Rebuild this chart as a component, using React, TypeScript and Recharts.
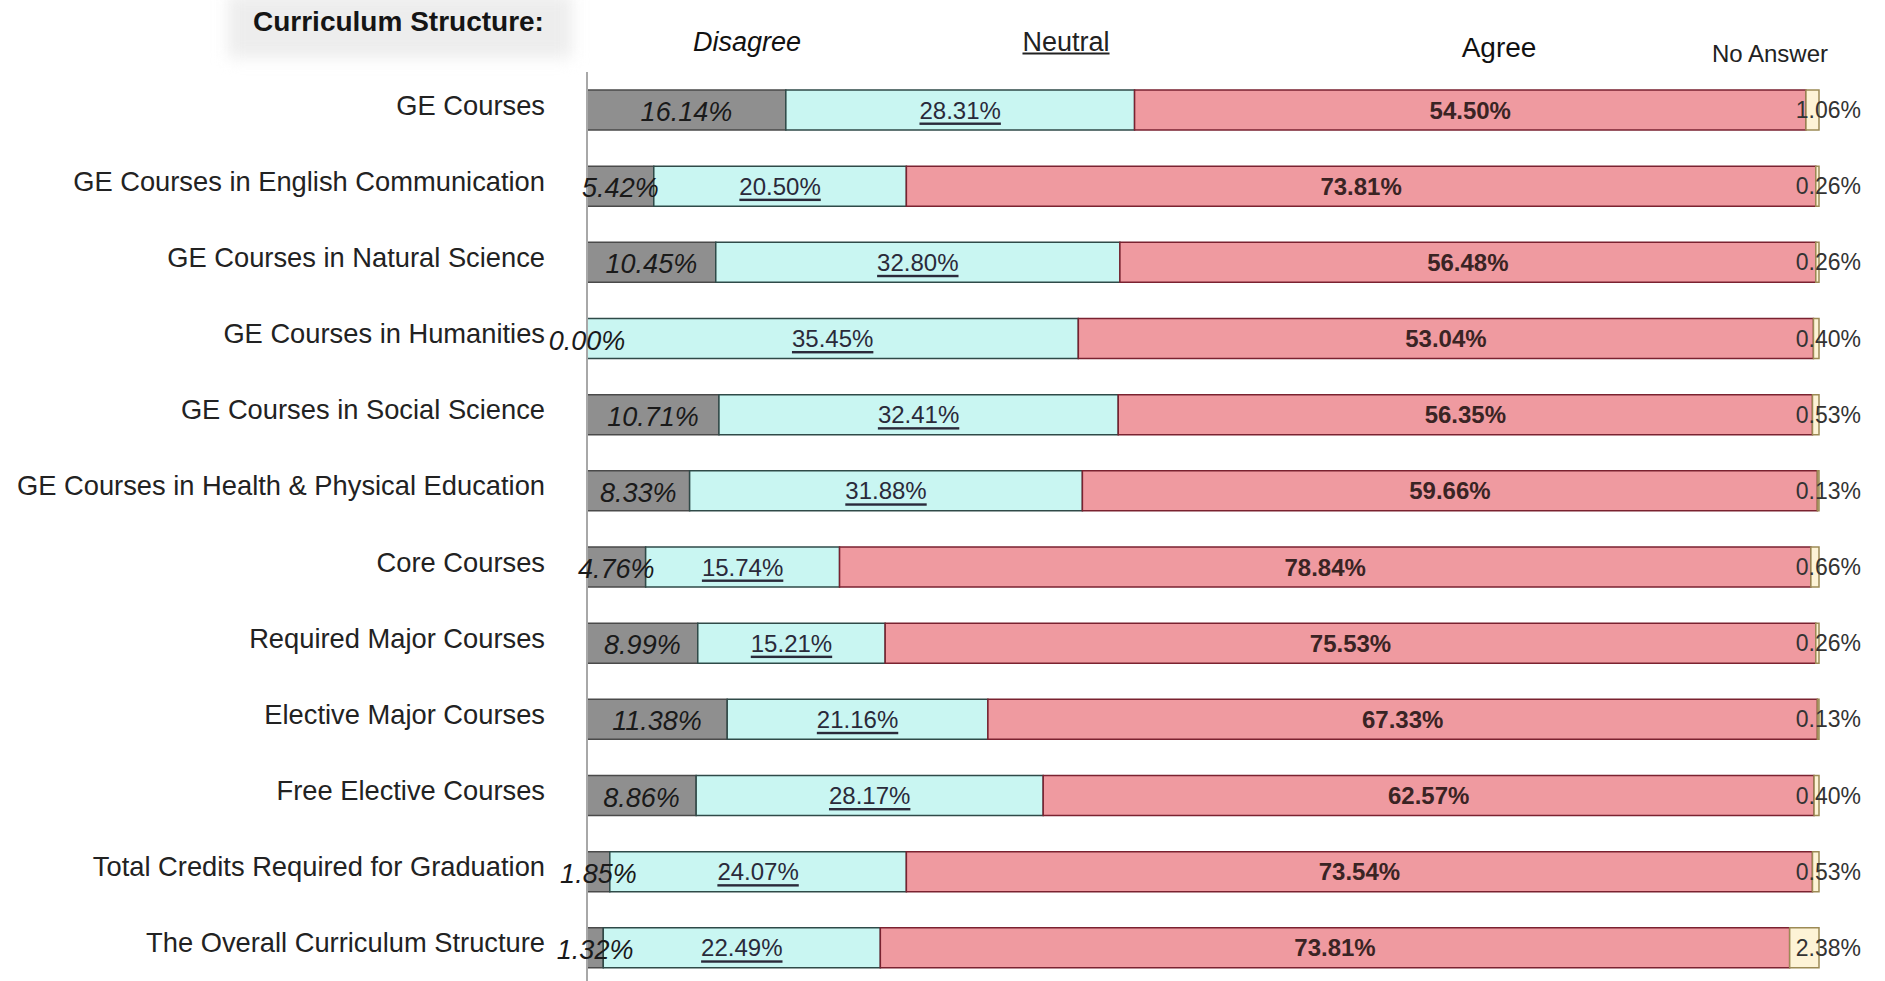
import React from "react";
import { BarChart, Bar, XAxis, YAxis, LabelList } from "recharts";

const categories = [
  "GE Courses",
  "GE Courses in English Communication",
  "GE Courses in Natural Science",
  "GE Courses in Humanities",
  "GE Courses in Social Science",
  "GE Courses in Health & Physical Education",
  "Core Courses",
  "Required Major Courses",
  "Elective Major Courses",
  "Free Elective Courses",
  "Total Credits Required for Graduation",
  "The Overall Curriculum Structure",
];

const disagree = [16.14, 5.42, 10.45, 0.0, 10.71, 8.33, 4.76, 8.99, 11.38, 8.86, 1.85, 1.32];
const neutral = [28.31, 20.5, 32.8, 35.45, 32.41, 31.88, 15.74, 15.21, 21.16, 28.17, 24.07, 22.49];
const agree = [54.5, 73.81, 56.48, 53.04, 56.35, 59.66, 78.84, 75.53, 67.33, 62.57, 73.54, 73.81];
const noAnswer = [1.06, 0.26, 0.26, 0.4, 0.53, 0.13, 0.66, 0.26, 0.13, 0.4, 0.53, 2.38];

const title = "Curriculum Structure:";
const headerLabels = ["Disagree", "Neutral", "Agree", "No Answer"];

const data = categories.map((name, i) => ({
  name,
  disagree: disagree[i],
  neutral: neutral[i],
  agree: agree[i],
  noAnswer: noAnswer[i],
}));

const FONT = "'Liberation Sans', Arial, sans-serif";
const fmt = (v: number) => `${Number(v).toFixed(2)}%`;

function CategoryTick({ x, y, payload }: any) {
  return (
    <text x={x} y={y - 5} textAnchor="end" dominantBaseline="central" fontSize={27.3} fill="#222" fontFamily={FONT}>
      {payload.value}
    </text>
  );
}

// Disagree labels hang off the neutral segment, since a 0% disagree bar
// gets no label of its own. Centre comes from the neutral bar's px per unit.
function DisagreeLabel({ x, y, width, height, value }: any) {
  const i = categories.indexOf(value);
  if (i < 0) return null;
  const pxPerUnit = neutral[i] ? width / neutral[i] : 0;
  const cx = x - (disagree[i] * pxPerUnit) / 2;
  return (
    <text
      x={cx}
      y={y + height / 2 + 2}
      textAnchor="middle"
      dominantBaseline="central"
      fontSize={27}
      fontStyle="italic"
      fill="#1a1a1a"
      fontFamily={FONT}
    >
      {fmt(disagree[i])}
    </text>
  );
}

function NeutralLabel({ x, y, width, height, value }: any) {
  return (
    <text
      x={x + width / 2}
      y={y + height / 2}
      textAnchor="middle"
      dominantBaseline="central"
      fontSize={24}
      fill="#2a2a3a"
      textDecoration="underline"
      fontFamily={FONT}
    >
      {fmt(value)}
    </text>
  );
}

function AgreeLabel({ x, y, width, height, value }: any) {
  return (
    <text
      x={x + width / 2}
      y={y + height / 2}
      textAnchor="middle"
      dominantBaseline="central"
      fontSize={24}
      fontWeight="bold"
      fill="#3a2424"
      fontFamily={FONT}
    >
      {fmt(value)}
    </text>
  );
}

function NoAnswerLabel({ x, y, width, height, value }: any) {
  return (
    <text
      x={x + width + 42}
      y={y + height / 2}
      textAnchor="end"
      dominantBaseline="central"
      fontSize={23}
      fill="#333"
      fontFamily={FONT}
    >
      {fmt(value)}
    </text>
  );
}

// header texts sit freely above the bars, like in the source slide
const headerStyles: React.CSSProperties[] = [
  { left: 747, top: 42, fontSize: 27, fontStyle: "italic", color: "#111" },
  { left: 1066, top: 42, fontSize: 27, textDecoration: "underline", color: "#222" },
  { left: 1499, top: 48, fontSize: 28, color: "#111" },
  { left: 1770, top: 54, fontSize: 24, color: "#222" },
];

export default function App() {
  return (
    <div
      style={{
        position: "absolute",
        left: 0,
        top: 0,
        width: 1885,
        height: 981,
        overflow: "hidden",
        background: "#fff",
        fontFamily: FONT,
      }}
    >
      <div
        style={{
          position: "absolute",
          left: 228,
          top: -6,
          width: 344,
          height: 64,
          background: "#ededed",
          filter: "blur(8px)",
        }}
      />
      <div
        style={{
          position: "absolute",
          left: 253,
          top: 22,
          transform: "translateY(-50%)",
          fontSize: 28,
          fontWeight: "bold",
          color: "#151515",
          whiteSpace: "nowrap",
        }}
      >
        {title}
      </div>
      {headerLabels.map((t, i) => (
        <div
          key={t}
          style={{
            position: "absolute",
            transform: "translate(-50%, -50%)",
            whiteSpace: "nowrap",
            ...headerStyles[i],
          }}
        >
          {t}
        </div>
      ))}
      <div style={{ position: "absolute", left: 0, top: 0 }}>
        <BarChart
          width={1885}
          height={987}
          data={data}
          layout="vertical"
          stackOffset="expand"
          barSize={40}
          margin={{ top: 72, right: 66, bottom: 1, left: 0 }}
        >
          <XAxis type="number" hide domain={[0, 1]} />
          <YAxis
            type="category"
            dataKey="name"
            width={587}
            interval={0}
            tickSize={0}
            tickMargin={42}
            tickLine={false}
            axisLine={{ stroke: "#a8a8a8", strokeWidth: 2 }}
            tick={<CategoryTick />}
          />
          <Bar dataKey="disagree" stackId="a" fill="#8f8f8f" stroke="#4a4a4a" strokeWidth={1.5} isAnimationActive={false} />
          <Bar dataKey="neutral" stackId="a" fill="#c9f6f2" stroke="#2f4a48" strokeWidth={1.5} isAnimationActive={false}>
            <LabelList dataKey="neutral" content={<NeutralLabel />} />
            <LabelList dataKey="name" content={<DisagreeLabel />} />
          </Bar>
          <Bar dataKey="agree" stackId="a" fill="#ef9aa0" stroke="#7a2230" strokeWidth={1.5} isAnimationActive={false}>
            <LabelList dataKey="agree" content={<AgreeLabel />} />
          </Bar>
          <Bar dataKey="noAnswer" stackId="a" fill="#fdf3d6" stroke="#9c8a55" strokeWidth={1.5} isAnimationActive={false}>
            <LabelList dataKey="noAnswer" content={<NoAnswerLabel />} />
          </Bar>
        </BarChart>
      </div>
    </div>
  );
}
